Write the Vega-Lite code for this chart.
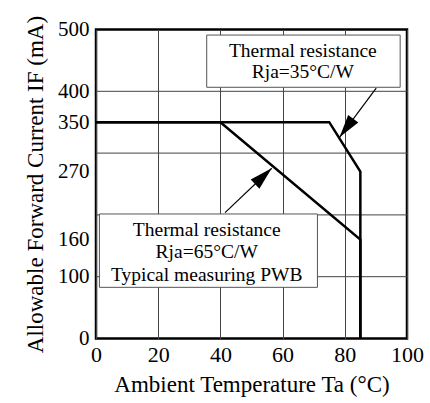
{
  "$schema": "https://vega.github.io/schema/vega-lite/v6.json",
  "autosize": "none",
  "padding": {"left": 96, "top": 29.5, "right": 23, "bottom": 64.5},
  "width": 311,
  "height": 309,
  "background": "white",
  "config": {
    "view": {"stroke": "black", "strokeWidth": 2.5},
    "font": "Liberation Serif",
    "axis": {"labelFont": "Liberation Serif", "titleFont": "Liberation Serif", "labelColor": "black", "titleColor": "black", "titleFontWeight": "normal"}
  },
  "datasets": {
    "ygrid": [{"g": 100}, {"g": 200}, {"g": 300}, {"g": 400}],
    "curves": [
      {"s": "35", "o": 1, "x": 0, "y": 350},
      {"s": "35", "o": 2, "x": 75, "y": 350},
      {"s": "35", "o": 3, "x": 85, "y": 270},
      {"s": "35", "o": 4, "x": 85, "y": 0},
      {"s": "65", "o": 1, "x": 0, "y": 350},
      {"s": "65", "o": 2, "x": 40, "y": 350},
      {"s": "65", "o": 3, "x": 85, "y": 160},
      {"s": "65", "o": 4, "x": 85, "y": 0}
    ],
    "boxes": [
      {"b": "35", "x0": 35.6, "x1": 97.8, "y0": 491, "y1": 406.5},
      {"b": "65", "x0": 1.1, "x1": 71.2, "y0": 201.5, "y1": 82.8}
    ],
    "notes": [
      {"t": "Thermal resistance", "x": 66.5, "y": 456},
      {"t": "Rja=35°C/W", "x": 66.5, "y": 421},
      {"t": "Thermal resistance", "x": 35.6, "y": 165.9},
      {"t": "Rja=65°C/W", "x": 35.6, "y": 129.8},
      {"t": "Typical measuring PWB", "x": 35.6, "y": 92.5}
    ],
    "arrows": [
      {"a": "35", "x0": 90.1, "y0": 405.3, "x1": 78.3, "y1": 325.6},
      {"a": "65", "x0": 41.5, "y0": 203.6, "x1": 56.5, "y1": 275.4}
    ]
  },
  "layer": [
    {
      "data": {"name": "ygrid"},
      "mark": {"type": "rule", "color": "#444", "strokeWidth": 1},
      "encoding": {
        "y": {"field": "g", "type": "quantitative"}
      }
    },
    {
      "data": {"name": "curves"},
      "mark": {"type": "line", "color": "black", "strokeWidth": 2.5, "strokeJoin": "miter"},
      "encoding": {
        "x": {"field": "x", "type": "quantitative",
          "scale": {"domain": [0, 100], "nice": false, "zero": false},
          "axis": {"values": [0, 20, 40, 60, 80, 100], "title": "Ambient Temperature Ta (°C)", "domain": false, "ticks": false, "grid": true, "gridColor": "#444", "gridOpacity": 1, "gridWidth": 1, "labelFontSize": 22, "labelPadding": 6, "titleFontSize": 23, "titlePadding": 8, "labelFlush": false, "labelOverlap": false}},
        "y": {"field": "y", "type": "quantitative",
          "scale": {"domain": [0, 500], "nice": false, "zero": false},
          "axis": {"values": [0, 100, 160, 270, 350, 400, 500], "title": "Allowable Forward Current IF (mA)", "domain": false, "ticks": false, "grid": false, "labelFontSize": 21, "labelPadding": 7, "titleFontSize": 23, "titlePadding": 10, "labelFlush": false, "labelOverlap": false}},
        "detail": {"field": "s"},
        "order": {"field": "o"}
      }
    },
    {
      "data": {"name": "boxes"},
      "mark": {"type": "rect", "fill": "white", "stroke": "#555", "strokeWidth": 1},
      "encoding": {
        "x": {"field": "x0", "type": "quantitative"},
        "x2": {"field": "x1"},
        "y": {"field": "y0", "type": "quantitative"},
        "y2": {"field": "y1"}
      }
    },
    {
      "data": {"name": "notes"},
      "mark": {"type": "text", "font": "Liberation Serif", "fontSize": 19.5, "color": "black", "align": "center", "baseline": "alphabetic"},
      "encoding": {
        "x": {"field": "x", "type": "quantitative"},
        "y": {"field": "y", "type": "quantitative"},
        "text": {"field": "t"}
      }
    },
    {
      "data": {"name": "arrows"},
      "mark": {"type": "rule", "color": "black", "strokeWidth": 1.2},
      "encoding": {
        "x": {"field": "x0", "type": "quantitative"},
        "y": {"field": "y0", "type": "quantitative"},
        "x2": {"field": "x1"},
        "y2": {"field": "y1"}
      }
    },
    {
      "data": {"name": "arrows"},
      "transform": [{"filter": "datum.a === '35'"}],
      "mark": {"type": "point", "shape": "M0,0L0.55,2L-0.55,2Z", "filled": true, "color": "black", "opacity": 1, "size": 529, "angle": 216.7},
      "encoding": {
        "x": {"field": "x1", "type": "quantitative"},
        "y": {"field": "y1", "type": "quantitative"}
      }
    },
    {
      "data": {"name": "arrows"},
      "transform": [{"filter": "datum.a === '65'"}],
      "mark": {"type": "point", "shape": "M0,0L0.55,2L-0.55,2Z", "filled": true, "color": "black", "opacity": 1, "size": 529, "angle": 46.4},
      "encoding": {
        "x": {"field": "x1", "type": "quantitative"},
        "y": {"field": "y1", "type": "quantitative"}
      }
    }
  ]
}
